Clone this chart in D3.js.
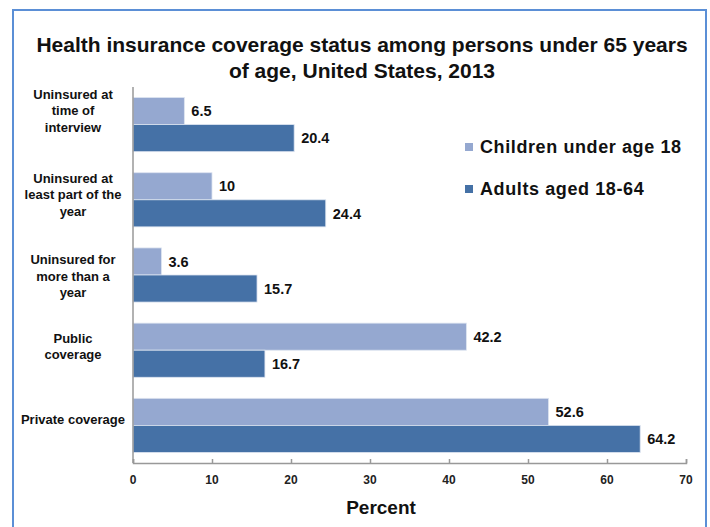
<!DOCTYPE html>
<html>
<head>
<meta charset="utf-8">
<script src="https://cdn.jsdelivr.net/npm/d3@7"></script>
<style>
  body { margin: 0; background: #fff; }
  text { font-family: "Liberation Sans", Arial, sans-serif; font-weight: bold; }
</style>
</head>
<body>
<div id="chart"></div>
<script>
// chart data
var categories = [
    ["Uninsured at", "time of", "interview"],
    ["Uninsured at", "least part of the", "year"],
    ["Uninsured for", "more than a", "year"],
    ["Public", "coverage"],
    ["Private coverage"]
];
var seriesNames = ["Children under age 18", "Adults aged 18-64"];
var childValues = [6.5, 10, 3.6, 42.2, 52.6];
var adultValues = [20.4, 24.4, 15.7, 16.7, 64.2];
var xTicks = [0, 10, 20, 30, 40, 50, 60, 70];
var titleLines = ["Health insurance coverage status among persons under 65 years",
                  "of age, United States, 2013"];

var colours = ["#95a8d0", "#4571a6"];

//----------------------------------------------------------
var width = 710, height = 527;
var plot = { left: 133, right: 686, top: 87, bottom: 463 };
// vertical nudge of the wrapped category labels, as laid out in the original
var labelNudge = [-14, -5, 1, -4, -6];

var svg = d3.select("#chart")
  .append("svg")
    .attr("width", width)
    .attr("height", height);

// frame
svg.append("rect")
    .attr("x", 13)
    .attr("y", 10)
    .attr("width", 693)
    .attr("height", 530)
    .attr("fill", "none")
    .attr("stroke", "#5b8fd6")
    .attr("stroke-width", 2);

// title
svg.append("text")
    .attr("text-anchor", "middle")
    .attr("font-size", 21)
    .attr("fill", "#111")
  .selectAll("tspan")
  .data(titleLines)
  .join("tspan")
    .attr("x", 362)
    .attr("y", function (d, i) { return 52 + i * 26; })
    .text(function (d) { return d; });

var x = d3.scaleLinear()
    .domain([0, 70])
    .range([plot.left, plot.right]);

var y = d3.scaleBand()
    .domain(d3.range(categories.length))
    .range([plot.top, plot.bottom])
    .paddingInner(0.28)
    .paddingOuter(0.14);

var sub = d3.scaleBand()
    .domain([0, 1])
    .range([0, y.bandwidth()]);

var rows = categories.map(function (c, i) {
    return { index: i, label: c, values: [childValues[i], adultValues[i]] };
});

var groups = svg.append("g")
  .selectAll("g")
  .data(rows)
  .join("g")
    .attr("transform", function (d) { return "translate(0," + y(d.index) + ")"; });

groups.selectAll("rect")
  .data(function (d) { return d.values; })
  .join("rect")
    .attr("x", x(0))
    .attr("y", function (d, i) { return sub(i); })
    .attr("width", function (d) { return x(d) - x(0); })
    .attr("height", sub.bandwidth())
    .attr("fill", function (d, i) { return colours[i]; })
    .attr("stroke", "#dde4f0")
    .attr("stroke-width", 0.8);

groups.selectAll("text.value")
  .data(function (d) { return d.values; })
  .join("text")
    .attr("class", "value")
    .attr("x", function (d) { return x(d) + 7; })
    .attr("y", function (d, i) { return sub(i) + sub.bandwidth() / 2; })
    .attr("dy", "0.36em")
    .attr("font-size", 14.5)
    .attr("fill", "#111")
    .text(function (d) { return d; });

// category labels
groups.append("text")
    .attr("text-anchor", "middle")
    .attr("font-size", 13)
    .attr("fill", "#111")
  .selectAll("tspan")
  .data(function (d) {
      return d.label.map(function (l, i) {
          return { text: l, i: i, n: d.label.length, nudge: labelNudge[d.index] };
      });
  })
  .join("tspan")
    .attr("x", 73)
    .attr("y", function (d) {
        return y.bandwidth() / 2 + d.nudge + (d.i - (d.n - 1) / 2) * 16.5;
    })
    .attr("dy", "0.36em")
    .text(function (d) { return d.text; });

// x axis
var xAxis = svg.append("g")
    .attr("transform", "translate(0," + plot.bottom + ")")
    .call(d3.axisTop(x).tickValues(xTicks).tickSize(4).tickFormat(""));
xAxis.selectAll("line, path").attr("stroke", "#999").attr("stroke-width", 1.5);

svg.append("g")
  .selectAll("text")
  .data(xTicks)
  .join("text")
    .attr("x", function (d) { return x(d); })
    .attr("y", plot.bottom + 21)
    .attr("text-anchor", "middle")
    .attr("font-size", 12)
    .attr("fill", "#222")
    .text(function (d) { return d; });

// y axis line
svg.append("line")
    .attr("x1", plot.left)
    .attr("x2", plot.left)
    .attr("y1", plot.top)
    .attr("y2", plot.bottom)
    .attr("stroke", "#999")
    .attr("stroke-width", 1.5);

svg.append("text")
    .attr("x", 381)
    .attr("y", 514)
    .attr("text-anchor", "middle")
    .attr("font-size", 19)
    .attr("fill", "#111")
    .text("Percent");

// legend
var legend = svg.append("g")
  .selectAll("g")
  .data(seriesNames)
  .join("g")
    .attr("transform", function (d, i) { return "translate(465," + (147 + i * 42) + ")"; });

legend.append("rect")
    .attr("x", 0)
    .attr("y", -4)
    .attr("width", 8)
    .attr("height", 8)
    .attr("fill", function (d, i) { return colours[i]; });

legend.append("text")
    .attr("x", 15)
    .attr("dy", "0.36em")
    .attr("font-size", 18)
    .attr("letter-spacing", 0.6)
    .attr("fill", "#111")
    .text(function (d) { return d; });
</script>
</body>
</html>
